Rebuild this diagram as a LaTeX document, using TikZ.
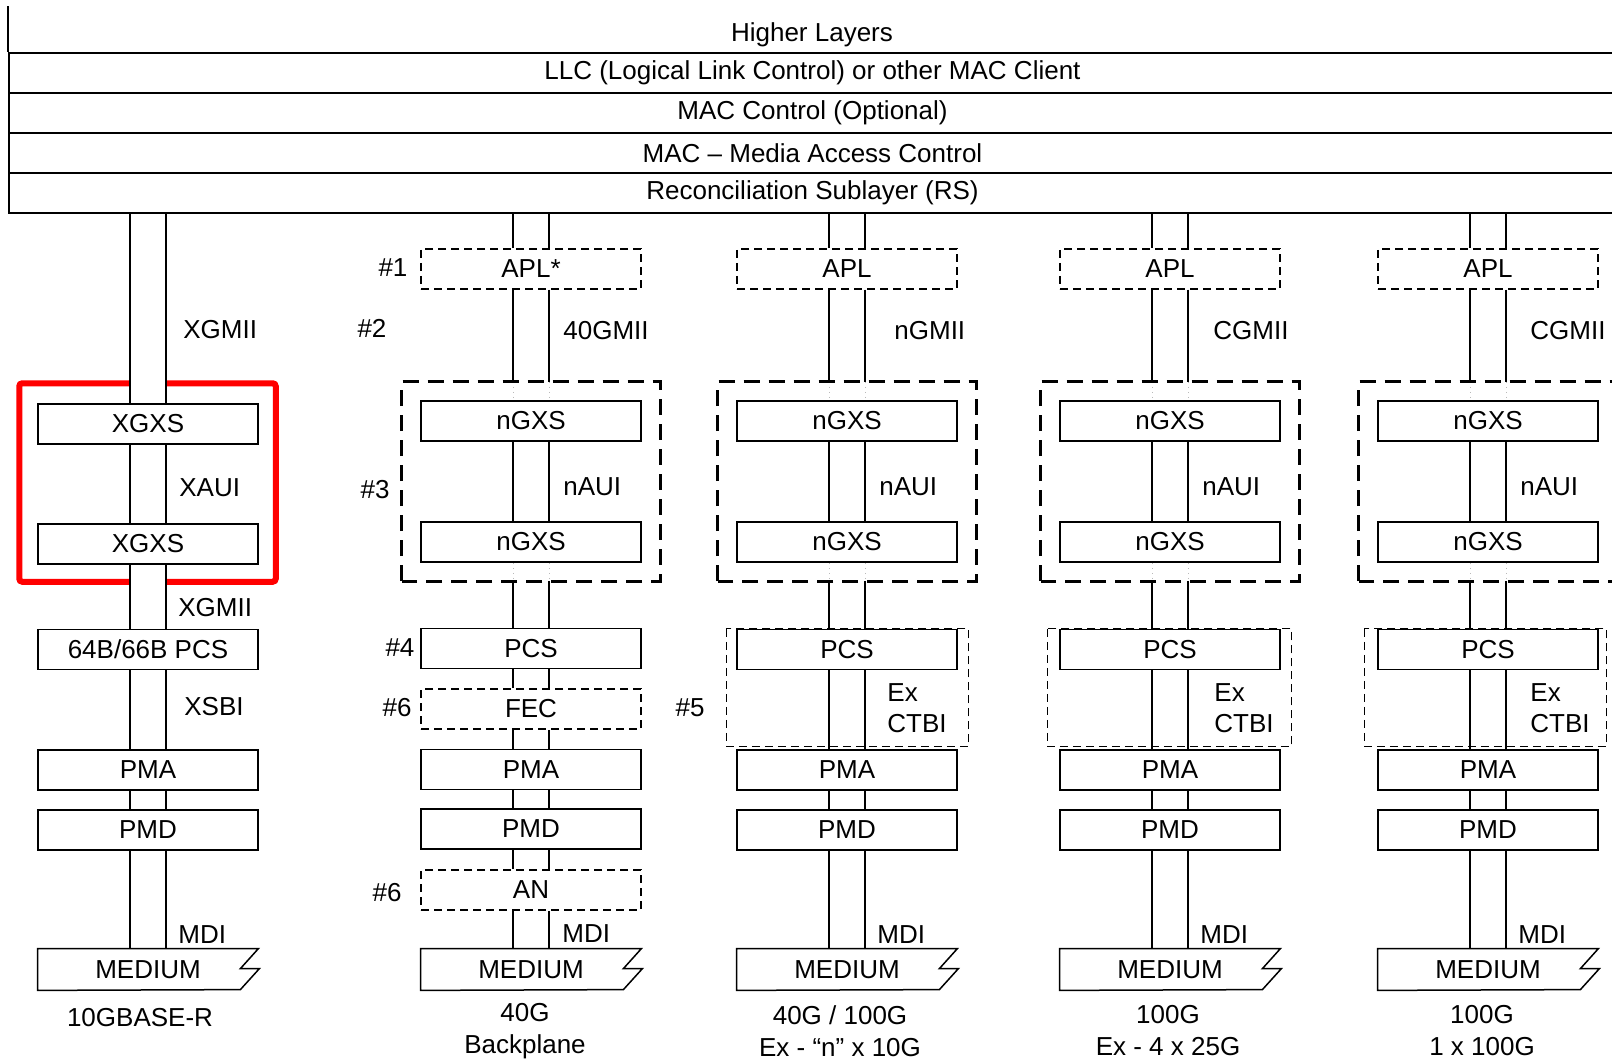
\documentclass[tikz,border=0pt]{standalone}
\usepackage{fontspec}
\setmainfont{Liberation Sans}
\usetikzlibrary{positioning, calc, fit}
\definecolor{hlred}{HTML}{FF0000}

\tikzset{
  stackrow/.style={draw, line width=1pt, minimum width=803.5pt, minimum height=20pt, inner sep=0pt},
  layer/.style={draw, fill=white, line width=0.75pt, minimum width=110pt, minimum height=20pt, inner sep=0pt},
  optlayer/.style={layer, dash pattern=on 4pt off 2.5pt},
  medium/.style={minimum width=110pt, minimum height=20.5pt, inner sep=0pt},
  grpfit/.style={inner sep=9pt},
  grp/.style={line width=1.5pt, dash pattern=on 8pt off 4.5pt},
  optgrp/.style={line width=0.7pt, dash pattern=on 4pt off 2.5pt},
  pipe/.style={line width=0.65pt},
  faint/.style={gray!55, line width=0.5pt, dotted},
  ifc/.style={anchor=west, inner sep=0pt},
  tag/.style={inner sep=0pt},
  redbox/.style={draw=hlred, line width=3pt, rounded corners=1.5pt}
}

\newcommand{\layerpipe}[2]{%
  \fill[white] ($(#1.south -| #2.north)+(-18,1)$) rectangle ($(#2.north)+(18,-1)$);
  \draw[pipe] ($(#1.south -| #2.north)+(-18,0)$) -- ($(#2.north)+(-18,0)$)
    ($(#1.south -| #2.north)+(18,0)$) -- ($(#2.north)+(18,0)$);}

\begin{document}
\begin{tikzpicture}[x=0.5pt, y=-0.5pt, font=\fontsize{13pt}{16pt}\selectfont]
  \useasboundingbox (0,0) rectangle (1612,1059);
  \clip (0,0) rectangle (1612,1059);

  \node (hl) at (812,35) {Higher Layers};
  \node[stackrow] (llc) at (812.5,73) {LLC (Logical Link Control) or other MAC Client};
  \node[stackrow] (macc) at (812.5,113) {MAC Control (Optional)};
  \node[stackrow] (mac) at (812.5,153) {MAC – Media Access Control};
  \node[stackrow] (rs) at (812.5,193) {Reconciliation Sublayer (RS)};
  \draw[line width=1pt] (llc.north west) -- ++(0,-46);

  \node[layer] (xgxsA) at (148,424) {XGXS};
  \node[layer] (xgxsB) at (148,544) {XGXS};
  \node[layer] (pcs1) at (148,649.5) {64B/66B PCS};
  \node[layer] (pma1) at (148,770) {PMA};
  \node[layer] (pmd1) at (148,830) {PMD};
  \node[medium] (med1) at (148,969.5) {MEDIUM};

  \node[optlayer] (apl2) at (531,269) {APL*};
  \node[layer] (gxA2) at (531,421) {nGXS};
  \node[layer] (gxB2) at (531,542) {nGXS};
  \node[layer] (pcs2) at (531,648.5) {PCS};
  \node[optlayer] (fec2) at (531,709) {FEC};
  \node[layer] (pma2) at (531,769.5) {PMA};
  \node[layer] (pmd2) at (531,829) {PMD};
  \node[optlayer] (an2) at (531,890) {AN};
  \node[medium] (med2) at (531,969.5) {MEDIUM};
  \node[grpfit, fit=(gxA2) (gxB2)] (grp2) {};

  \foreach \c/\x/\mii/\mx/\ex in {3/847/nGMII/47/40, 4/1170/CGMII/43/44, 5/1488/CGMII/42/42} {
    \node[optlayer] (apl\c) at (\x,269) {APL};
    \node[layer] (gxA\c) at (\x,421) {nGXS};
    \node[layer] (gxB\c) at (\x,542) {nGXS};
    \node[layer] (pcs\c) at (\x,649.5) {PCS};
    \node[layer] (pma\c) at (\x,770) {PMA};
    \node[layer] (pmd\c) at (\x,830) {PMD};
    \node[medium] (med\c) at (\x,969.5) {MEDIUM};
    \node[grpfit, fit=(gxA\c) (gxB\c)] (grp\c) {};
    \node[ifc] (mii\c) at (\x+\mx,331) {\mii};
    \node[ifc] (aui\c) at (\x+32,487) {nAUI};
    \node[ifc] (ex\c) at (\x+\ex,693) {Ex};
    \node[ifc] (ctbi\c) at (\x+\ex,724) {CTBI};
    \node[ifc] (mdi\c) at (\x+30,935) {MDI};
  }

  \draw[redbox] ($(xgxsA.north west)+(-18,-20)$) rectangle ($(xgxsB.south east)+(17,17)$);

  \foreach \a/\b in {rs/xgxsA, xgxsA/xgxsB, xgxsB/pcs1, pcs1/pma1, pma1/pmd1, pmd1/med1,
                     rs/apl2, apl2/grp2, gxA2/gxB2, grp2/pcs2, pcs2/fec2, fec2/pma2, pma2/pmd2, pmd2/an2, an2/med2}
    \layerpipe{\a}{\b};
  \foreach \c in {3,4,5}
    \foreach \a/\b in {rs/apl\c, apl\c/grp\c, gxA\c/gxB\c, grp\c/pcs\c, pcs\c/pma\c, pma\c/pmd\c, pmd\c/med\c}
      \layerpipe{\a}{\b};

  \foreach \c in {2,...,5} {
    \draw[faint] ($(grp\c.north)+(-18,0)$) -- ($(gxA\c.north)+(-18,0)$)
                 ($(grp\c.north)+(18,0)$) -- ($(gxA\c.north)+(18,0)$)
                 ($(gxB\c.south)+(-18,0)$) -- ($(grp\c.south)+(-18,0)$)
                 ($(gxB\c.south)+(18,0)$) -- ($(grp\c.south)+(18,0)$);
    \draw[grp] (grp\c.south west) rectangle (grp\c.north east);
  }
  \foreach \c/\l/\r in {3/10/11, 4/12/11, 5/13/8}
    \draw[optgrp] ($(pcs\c.north west)+(-\l,0)$) rectangle ($(pma\c.north east)+(\r,-3)$);

  \foreach \m in {med1,med2,med3,med4,med5}
    \draw[line width=0.75pt] (\m.north west) -- (\m.north east) -- ++(-18,20) -- ++(19,0)
      -- ++(-19,21) -- (\m.south west) -- cycle;

  \node[ifc] (mii1) at (183,330) {XGMII};
  \node[ifc] (aui1) at (179,488) {XAUI};
  \node[ifc] (mii1b) at (178,608) {XGMII};
  \node[ifc] (xsbi1) at (184,707) {XSBI};
  \node[ifc] (mdi1) at (178,935) {MDI};

  \node[tag] (tag1) at (393,268) {\#1};
  \node[tag] (tag2) at (372,328) {\#2};
  \node[tag] (tag3) at (375,490) {\#3};
  \node[tag] (tag4) at (400,648) {\#4};
  \node[tag] (tag6a) at (397,708) {\#6};
  \node[tag] (tag5) at (690,708) {\#5};
  \node[tag] (tag6b) at (387,893) {\#6};
  \node[ifc] (mii2) at (563,331) {40GMII};
  \node[ifc] (aui2) at (563,487) {nAUI};
  \node[ifc] (mdi2) at (562,934) {MDI};

  \node (name1) at (140,1018) {10GBASE-R};
  \node[align=center] (name2) at (525,1031) {40G\\Backplane};
  \node[align=center] (name3) at (840,1031) {40G / 100G\\Ex - “n” x 10G};
  \node[align=center] (name4) at (1168,1031) {100G\\Ex - 4 x 25G};
  \node[align=center] (name5) at (1482,1031) {100G\\1 x 100G};
\end{tikzpicture}
\end{document}
